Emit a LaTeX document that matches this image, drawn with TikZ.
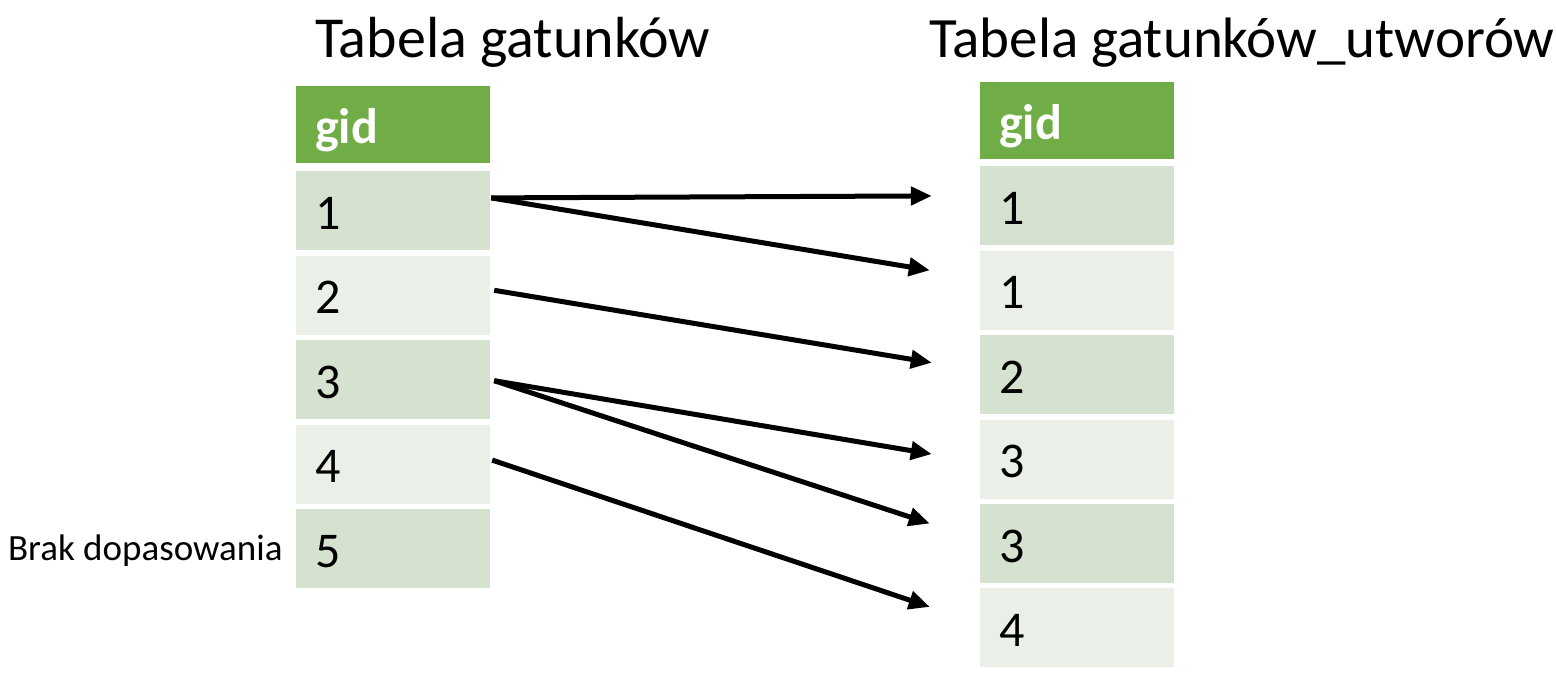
\documentclass[tikz,border=0pt]{standalone}
\usepackage{fontspec}
\setmainfont{Carlito}
\usetikzlibrary{positioning,calc,arrows.meta}

\definecolor{headgreen}{HTML}{70AD47}
\definecolor{rowdark}{HTML}{D5E2CF}
\definecolor{rowlight}{HTML}{EAEFE7}

\begin{document}
\begin{tikzpicture} [x=1pt, y=-1pt, node distance=5pt,
                    cell/.style={rectangle, inner xsep=19pt, inner ysep=0pt, text width=156pt, align=left,
                                 minimum height=79pt, text height=37pt, text depth=0pt,
                                 font=\fontsize{50}{60}\selectfont},
                    head/.style={cell, fill=headgreen, text=white, minimum height=77pt,
                                 font=\fontsize{50}{60}\selectfont\bfseries},
                    dark/.style={cell, fill=rowdark},
                    light/.style={cell, fill=rowlight},
                    title/.style={anchor=base west, inner sep=0pt, font=\fontsize{57}{68}\selectfont},
                    link/.style={line width=5pt, -{Triangle[length=21pt,width=18pt]}}]

\useasboundingbox (0,0) rectangle (1556,688);

% left table
\node[title, font=\fontsize{58}{70}\selectfont] (ltitle) at (315,57) {Tabela gatunków};
\node[head] (lh) at (393,124.5) {gid};
\node[dark] (l1) [below=8pt of lh] {1};
\node[light] (l2) [below=of l1] {2};
\node[dark] (l3) [below=of l2] {3};
\node[light] (l4) [below=of l3] {4};
\node[dark] (l5) [below=of l4] {5};
\node[anchor=base east, inner sep=0pt, font=\fontsize{37}{44}\selectfont] (miss)
    at ($(l5.west)+(-13,11.5)$) {Brak dopasowania};

% right table
\node[title] (rtitle) at (929,57) {Tabela gatunków\_utworów};
\node[head] (rh) at (1077,120.5) {gid};
\node[dark] (r1) [below=7pt of rh] {1};
\node[light] (r2) [below=of r1] {1};
\node[dark] (r3) [below=of r2] {2};
\node[light] (r4) [below=of r3] {3};
\node[dark] (r5) [below=of r4] {3};
\node[light] (r6) [below=of r5] {4};

 \path[link]
    ($(l1.east)+(1,-13)$) edge ($(r1.west)+(-48,-10)$)
    ($(l1.east)+(1,-13)$) edge ($(r2.west)+(-50,-20)$)
    ($(l2.east)+(4,-5)$)  edge ($(r3.west)+(-48,-12)$)
    ($(l3.east)+(4,1)$)   edge ($(r4.west)+(-48,-5)$)
    ($(l3.east)+(4,1)$)   edge ($(r5.west)+(-50,-20)$)
    ($(l4.east)+(2,-4)$)  edge ($(r6.west)+(-50,-21)$);
\end{tikzpicture}
\end{document}
